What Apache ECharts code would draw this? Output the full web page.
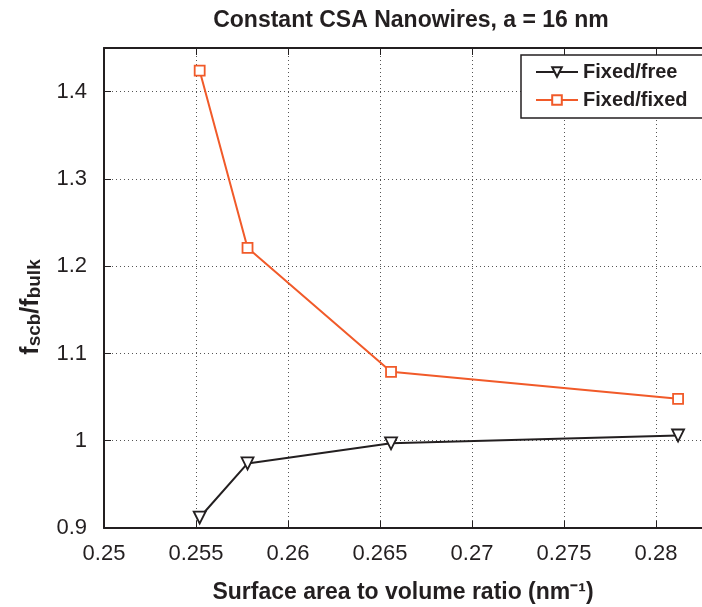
<!DOCTYPE html>
<html><head><meta charset="utf-8">
<script src="https://cdn.jsdelivr.net/npm/echarts@6/dist/echarts.min.js"></script>
<style>html,body{margin:0;padding:0;background:#fff}#c{width:702px;height:607px}</style>
</head><body><div id="c"></div>
<script>
const seriesNames = ['Fixed/free', 'Fixed/fixed'];
const xFree = [0.2552, 0.2578, 0.2656, 0.2812];
const yFree = [0.912, 0.974, 0.997, 1.006];
const xFixed = [0.2552, 0.2578, 0.2656, 0.2812];
const yFixed = [1.424, 1.221, 1.079, 1.048];
const xTicks = [0.25, 0.255, 0.26, 0.265, 0.27, 0.275, 0.28];
const yTicks = [0.9, 1, 1.1, 1.2, 1.3, 1.4];

const ink = '#231f20', orange = '#f15a29';
const chart = echarts.init(document.getElementById('c'), null, {renderer: 'canvas'});
const fontFam = '"Liberation Sans", Arial, sans-serif';
const baseAxis = {
  type: 'value', min: 0.25, max: 0.2825, interval: 0.005,
  axisLine: {show: true, lineStyle: {color: ink, width: 2}},
  axisTick: {show: true, inside: true, length: 7, lineStyle: {color: ink, width: 1}},
  splitLine: {show: false}
};
chart.setOption({
  animation: false,
  backgroundColor: '#fff',
  title: {
    text: 'Constant CSA Nanowires, a = 16 nm', left: 406, top: 4, textAlign: 'center',
    textStyle: {fontFamily: fontFam, fontWeight: 'bold', fontSize: 23, color: ink}
  },
  grid: {left: 104, top: 48, right: 0, bottom: 79, containLabel: false, outerBoundsMode: 'none'},
  legend: {
    data: seriesNames, orient: 'vertical', left: 521, top: 55,
    padding: [7, 70, 8, 14], itemGap: 8, itemWidth: 42, itemHeight: 12,
    borderColor: ink, borderWidth: 1.5, backgroundColor: '#fff',
    textStyle: {fontFamily: fontFam, fontWeight: 'bold', fontSize: 20, color: ink}
  },
  xAxis: [Object.assign({}, baseAxis, {
    position: 'bottom',
    axisLabel: {
      margin: 15, fontFamily: fontFam, fontSize: 22, color: ink, showMaxLabel: false,
      formatter: v => xTicks.some(t => Math.abs(t - v) < 1e-9) ? String(+v.toFixed(3)) : ''
    },
    splitLine: {show: true, lineStyle: {color: '#555', type: [1, 3], width: 1}},
    name: 'Surface area to volume ratio (nm⁻¹)', nameLocation: 'middle', nameGap: 53,
    nameTextStyle: {fontFamily: fontFam, fontWeight: 'bold', fontSize: 23, color: ink}
  }), Object.assign({}, baseAxis, {position: 'top', axisLabel: {show: false}})],
  yAxis: [{
    type: 'value', min: 0.9, max: 1.45, interval: 0.1,
    axisLine: {show: true, lineStyle: {color: ink, width: 2}},
    axisTick: {show: true, inside: true, length: 7, lineStyle: {color: ink}},
    axisLabel: {margin: 17, fontFamily: fontFam, fontSize: 22, color: ink, showMaxLabel: false,
      formatter: v => yTicks.some(t => Math.abs(t - v) < 1e-9) ? String(+v.toFixed(1)) : ''},
    splitLine: {show: true, lineStyle: {color: '#555', type: [1, 3], width: 1}},
    name: '{f|f}{s|scb}{f|/f}{s|bulk}', nameLocation: 'middle', nameGap: 60, nameRotate: 90,
    nameTextStyle: {
      padding: [0, 38, 0, 0],
      rich: {
        f: {fontFamily: fontFam, fontWeight: 'bold', fontSize: 25, color: ink, verticalAlign: 'bottom'},
        s: {fontFamily: fontFam, fontWeight: 'bold', fontSize: 19, color: ink, padding: [12, 0, 0, 0], verticalAlign: 'bottom'}
      }
    }
  }],
  series: [{
    name: seriesNames[0], type: 'line', data: xFree.map((x, i) => [x, yFree[i]]),
    symbol: 'triangle', symbolRotate: 180, symbolSize: 12,
    lineStyle: {color: ink, width: 2}, itemStyle: {color: '#fff', borderColor: ink, borderWidth: 1.8}
  }, {
    name: seriesNames[1], type: 'line', data: xFixed.map((x, i) => [x, yFixed[i]]),
    symbol: 'rect', symbolSize: 10,
    lineStyle: {color: orange, width: 2}, itemStyle: {color: '#fff', borderColor: orange, borderWidth: 1.8}
  }]
});
</script></body></html>
